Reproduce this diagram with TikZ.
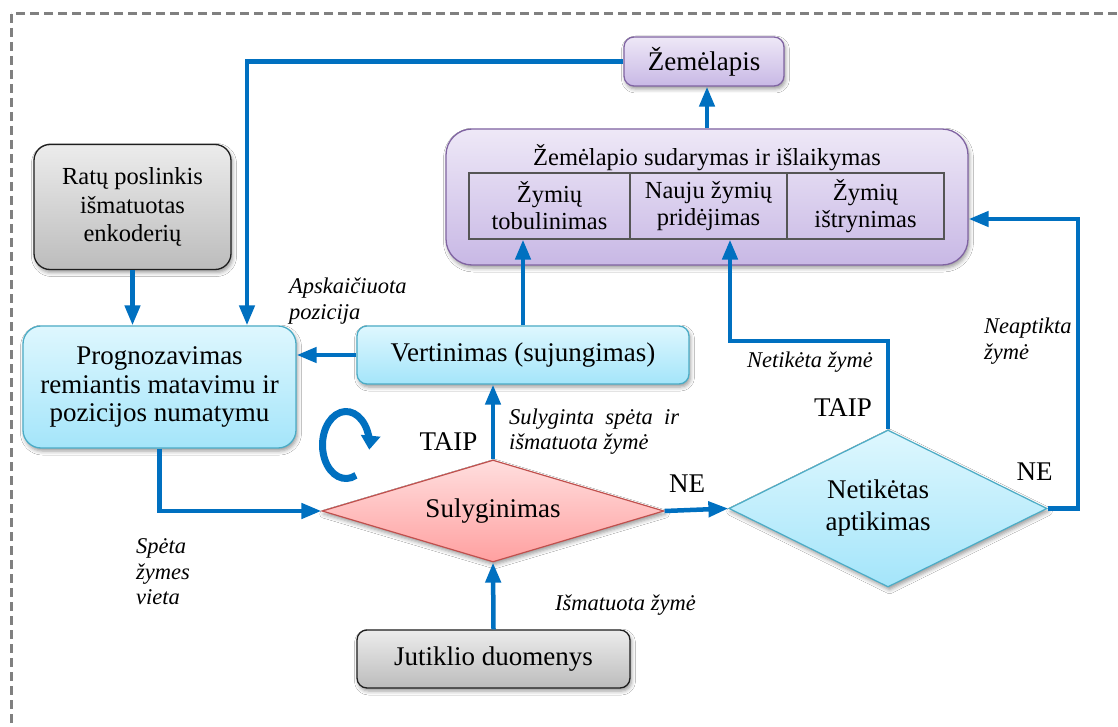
\documentclass[tikz,border=0pt]{standalone}
\usepackage{fontspec}
\setmainfont{Liberation Serif}
\usetikzlibrary{arrows.meta,shapes.geometric,shadows.blur}

\definecolor{flowblue}{RGB}{0,112,192}
\definecolor{framegray}{RGB}{128,128,128}
\definecolor{grayT}{RGB}{236,236,236}
\definecolor{grayB}{RGB}{188,188,188}
\definecolor{grayE}{RGB}{30,30,30}
\definecolor{cyanT}{RGB}{222,247,254}
\definecolor{cyanB}{RGB}{164,229,250}
\definecolor{cyanE}{RGB}{75,172,198}
\definecolor{purpT}{RGB}{238,232,247}
\definecolor{purpB}{RGB}{200,184,229}
\definecolor{purpE}{RGB}{128,100,162}
\definecolor{pinkT}{RGB}{255,222,222}
\definecolor{pinkB}{RGB}{255,160,160}
\definecolor{pinkE}{RGB}{192,80,77}
\definecolor{cellE}{RGB}{85,85,85}

\newcommand{\smallsize}{\fontsize{24.5}{28.5}\selectfont}
\newcommand{\mainsize}{\fontsize{27}{28.5}\selectfont}
\newcommand{\notesize}{\fontsize{22.5}{25.5}\selectfont\itshape}

\begin{document}
\begin{tikzpicture}[x=1pt,y=-1pt,
  softshadow/.style={blur shadow={shadow xshift=1.5pt, shadow yshift=-3pt,
      shadow blur radius=4pt, shadow opacity=40}},
  boxbase/.style={rectangle, inner sep=0pt, align=center, font=\mainsize,
      line width=1.3pt, softshadow},
  graybox/.style={boxbase, draw=grayE, top color=grayT, bottom color=grayB},
  cyanbox/.style={boxbase, draw=cyanE, top color=cyanT, bottom color=cyanB},
  purplebox/.style={boxbase, draw=purpE, top color=purpT, bottom color=purpB},
  decision/.style={diamond, inner sep=0pt, align=center, font=\mainsize,
      line width=1.2pt, softshadow},
  cellbox/.style={rectangle, draw=cellE, line width=1.2pt, inner sep=0pt,
      align=center, font=\fontsize{24.5}{27}\selectfont},
  arr/.style={draw=flowblue, line width=4.5pt,
      -{Triangle[length=20pt,width=15pt]}},
  loopline/.style={draw=flowblue, line width=7pt,
      -{Triangle[length=14pt,width=19pt]}},
  note/.style={inner sep=0pt, align=left, anchor=west, font=\notesize},
  answer/.style={inner sep=0pt, font=\mainsize}]

\useasboundingbox (0,0) rectangle (1118,727);
\fill[white] (0,0) rectangle (1118,727);

% outer dashed frame
\draw[framegray, line width=3pt, dash pattern=on 9pt off 5pt]
  (11,14) rectangle (1135,745);

% blocks
\node[graybox, rounded corners=16pt, minimum width=197pt, minimum height=125pt,
  font=\smallsize]
  (rat) at (132.5,207) {Ratų poslinkis\\išmatuotas\\enkoderių};
\node[cyanbox, rounded corners=18pt, minimum width=273pt, minimum height=122pt]
  (prog) at (159.5,387) {Prognozavimas\\remiantis matavimu ir\\pozicijos numatymu};
\node[cyanbox, rounded corners=10pt, minimum width=332pt, minimum height=58pt]
  (vert) at (523,355) {Vertinimas (sujungimas)};
\node[purplebox, rounded corners=10pt, minimum width=160pt, minimum height=49pt]
  (zem) at (704,61.5) {Žemėlapis};
\node[purplebox, rounded corners=26pt, minimum width=522pt, minimum height=136pt]
  (sud) at (707,197) {};
\node[inner sep=0pt, font=\smallsize] (sudtitle) at (707,158)
  {Žemėlapio sudarymas ir išlaikymas};
\node[cellbox, minimum width=161pt, minimum height=66pt] (cell1) at (549.5,206)
  {Žymių\\tobulinimas};
\node[cellbox, minimum width=157pt, minimum height=66pt] (cell2) at (708.5,206)
  {Nauju žymių\\pridėjimas};
\node[cellbox, minimum width=157pt, minimum height=66pt] (cell3) at (865.5,206)
  {Žymių\\ištrynimas};
\node[decision, draw=pinkE, top color=pinkT, bottom color=pinkB,
  minimum width=342pt, minimum height=102pt, aspect=3.35]
  (sul) at (493,511) {Sulyginimas};
\node[decision, draw=cyanE, top color=cyanT, bottom color=cyanB,
  minimum width=318pt, minimum height=157pt, aspect=2.03,
  font=\fontsize{27}{32}\selectfont]
  (net) at (888,508.5) {Netikėtas\hspace*{20pt}\\aptikimas\hspace*{20pt}};
\node[graybox, rounded corners=10pt, minimum width=273pt, minimum height=58pt]
  (jut) at (493.5,659) {Jutiklio duomenys};

% bend points
\coordinate (mapdrop) at (247,0);
\coordinate (vertup) at (523,0);
\coordinate (newbend) at (730,341);
\coordinate (lostbend) at (1078,219);
\coordinate (loopc) at (346,445);

% connectors
\draw[arr] (zem.west) -- (zem.west -| mapdrop) -- (prog.north -| mapdrop);
\draw[arr] (rat.south) -- (rat.south |- prog.north);
\draw[arr] (vert.west) -- (vert.west -| prog.east);
\draw[arr] (prog.south) |- (sul.west);
\draw[arr] (sul.north) -- (sul.north |- vert.south);
\draw[arr] (jut.north) -- (sul.south);
\draw[arr] (sul.east) -- (net.west);
\draw[arr] (vert.north -| vertup) -- (cell1.south -| vertup);
\draw[arr] (net.north) |- (newbend) -- (newbend |- cell2.south);
\draw[arr] (net.east) -| (lostbend) -- (lostbend -| sud.east);
\draw[arr] (sud.north) -- (sud.north |- zem.south);

% iteration loop symbol
\draw[loopline] (loopc) ++(65:23.5 and 33.5)
  arc[start angle=65, end angle=368, x radius=23.5, y radius=33.5];

% connector notes
\node[note] (n1) at (289,301) {Apskaičiuota\\pozicija};
\node[note] (n2) at (509,431.5) {Sulyginta\ \ spėta\ \ ir\\išmatuota žymė};
\node[note] (n3) at (555,605) {Išmatuota žymė};
\node[note] (n4) at (136,572) {Spėta\\žymes\\vieta};
\node[note] (n5) at (747,362) {Netikėta žymė};
\node[note] (n6) at (984,341) {Neaptikta\\žymė};

% decision answers
\node[answer] (a1) at (448.5,442) {TAIP};
\node[answer] (a2) at (687,484) {NE};
\node[answer] (a3) at (843,408) {TAIP};
\node[answer] (a4) at (1034.5,472) {NE};

\end{tikzpicture}
\end{document}
